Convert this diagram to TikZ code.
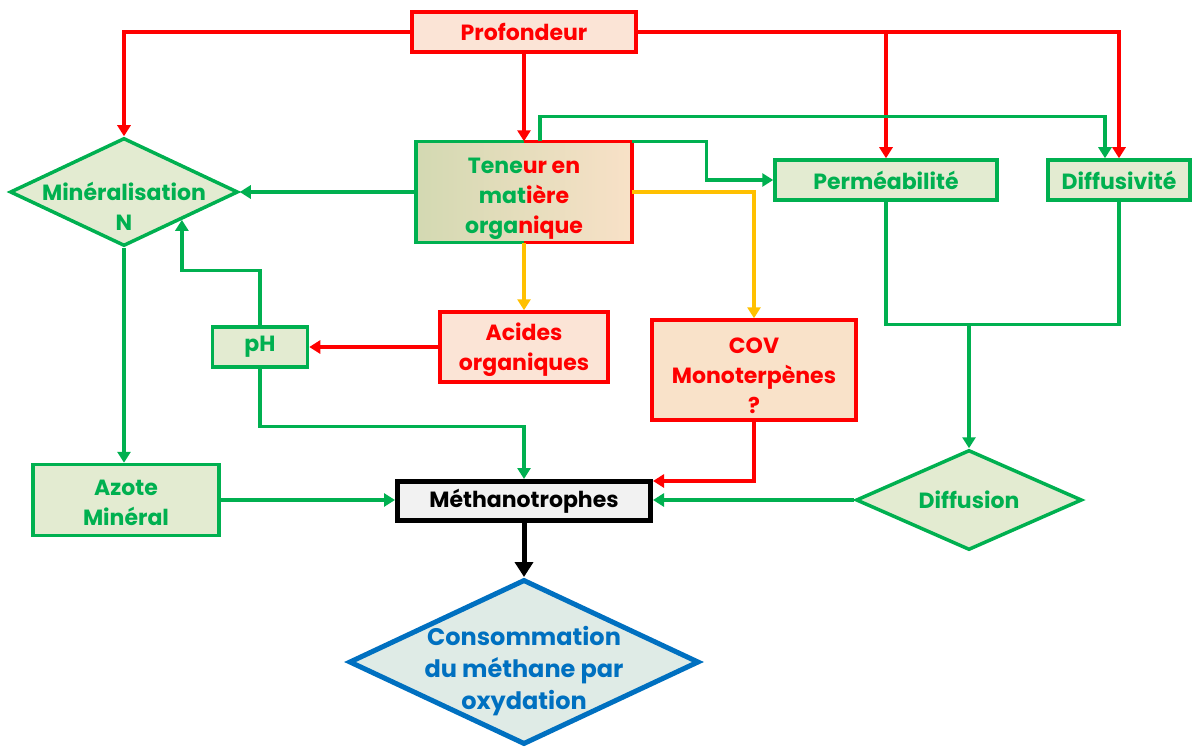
\documentclass[tikz,border=0pt]{standalone}
\usepackage{fontspec}
\setmainfont{Poppins}
\usetikzlibrary{shapes.geometric,arrows.meta,shadows}
\definecolor{gr}{HTML}{00B050}
\definecolor{rd}{HTML}{FF0000}
\definecolor{og}{HTML}{FFC000}
\definecolor{bl}{HTML}{0070C0}
\definecolor{gfill}{HTML}{E3EBD1}
\definecolor{pfill}{HTML}{FBE4D6}
\definecolor{cfill}{HTML}{F9E2C9}
\definecolor{tgl}{HTML}{D3D9B2}
\definecolor{tgr}{HTML}{F8E1C7}
\definecolor{bfill}{HTML}{DFEBE6}
\tikzset{
  txt/.style={font=\bfseries\fontsize{22}{30}\selectfont, align=center},
  gbox/.style={txt, draw=gr, line width=3.5pt, fill=gfill, text=gr, inner sep=0pt},
  rbox/.style={txt, draw=rd, line width=3.5pt, fill=pfill, text=rd, inner sep=0pt},
  gdia/.style={diamond, draw=gr, line width=3.5pt, fill=gfill, inner sep=0pt},
  gl/.style={draw=gr, line width=3.3pt},
  rl/.style={draw=rd, line width=3.3pt},
  ol/.style={draw=og, line width=3.3pt},
  tip/.style={-{Triangle[length=11pt,width=13pt]}},
}
\begin{document}
\begin{tikzpicture}[x=1pt,y=-1pt]
\useasboundingbox (0,0) rectangle (1192,749);
% nodes
\node[rbox, minimum width=224pt, minimum height=40pt] (pro) at (524,32) {Profondeur};
\node[left color=tgl, right color=tgr, minimum width=216pt, minimum height=101pt, inner sep=0pt] (ten) at (524,192) {};
\node[txt] (tent) at ([yshift=-7pt]ten.center)
  {\textcolor{gr}{Tene}\textcolor{rd}{ur en}\\\textcolor{gr}{mat}\textcolor{rd}{ière}\\\textcolor{gr}{orga}\textcolor{rd}{nique}};
\draw[gr, line width=3.5pt] (ten.north) -- (ten.north west) -- (ten.south west) -- (ten.south);
\draw[rd, line width=3.5pt] (ten.north) -- (ten.north east) -- (ten.south east) -- (ten.south);
\node[gdia, minimum width=228pt, minimum height=108pt] (min) at (124,192) {};
\node[txt, text=gr] (mint) at ([yshift=-14pt]min.center) {Minéralisation\\N};
\node[gbox, minimum width=222pt, minimum height=40pt] (perm) at (886,180) {Perméabilité};
\node[gbox, minimum width=142pt, minimum height=40pt] (difv) at (1119,180) {Diffusivité};
\node[rbox, minimum width=168pt, minimum height=70pt] (aci) at (524,347) {};
\node[txt, text=rd] (acit) at ([yshift=-3pt]aci.center) {Acides\\organiques};
\node[rbox, fill=cfill, minimum width=204pt, minimum height=100pt] (cov) at (754,370) {};
\node[txt, text=rd] (covt) at ([yshift=-6pt]cov.center) {COV\\Monoterpènes\\?};
\node[gbox, minimum width=95pt, minimum height=40pt] (ph) at (260,347) {pH};
\node[gbox, minimum width=186pt, minimum height=71pt] (az) at (126,500) {};
\node[txt, text=gr] (azt) at ([yshift=-3pt]az.center) {Azote\\Minéral};
\node[txt, draw=black, line width=5pt, fill=black!5, drop shadow={opacity=0.35}, minimum width=253pt, minimum height=39pt, inner sep=0pt] (meth) at (524,501) {Méthanotrophes};
\node[gdia, minimum width=226pt, minimum height=100pt] (dif) at (969,500) {};
\node[txt, text=gr] (dift) at (dif.center) {Diffusion};
\node[diamond, draw=bl, line width=5pt, fill=bfill, inner sep=0pt, minimum width=350pt, minimum height=165pt] (cons) at (524,662) {};
\node[txt, text=bl, font=\bfseries\fontsize{24}{32}\selectfont] (const) at ([yshift=-9pt]cons.center) {Consommation\\du méthane par\\oxydation};
% red connectors
\draw[rl, tip] (pro.west) -| (min.north);
\draw[rl, tip] (pro.south) -- (ten.north);
\draw[rl, tip] (pro.east) -| (perm.north);
\draw[rl, tip] (pro.east) -| (difv.north);
\draw[rl, tip] (aci.west) -- (ph.east);
\draw[rl, tip] (cov.south) |- ([yshift=-2pt]meth.north east);
% orange connectors
\draw[ol, tip] (ten.south) -- (aci.north);
\draw[ol, tip] (ten.east) -| (cov.north);
% green connectors
\draw[gl, tip] ([xshift=16pt]ten.north) -- ++(0,-25) -| ([xshift=-14pt]difv.north);
\draw[gl, tip] (ten.north east) -- ++(74,0) |- (perm.west);
\draw[gl, tip] (ten.west) -- (min.east);
\draw[gl, tip] (ph.north) -- ++(0,-55) -| (min.south east);
\draw[gl, tip] (ph.south) -- ++(0,58) -| (meth.north);
\draw[gl, tip] (min.south) -- (min.south |- az.north);
\draw[gl, tip] (az.east) -- (az.east -| meth.west);
\draw[gl, tip] (dif.west) -- (dif.west -| meth.east);
\path (perm.south) -- ++(0,123) coordinate (jl);
\draw[gl] (perm.south) -- (jl) -| (difv.south);
\draw[gl, tip] (jl -| dif.north) -- (dif.north);
% black
\draw[line width=5pt, -{Triangle[length=15pt,width=18pt]}] (meth.south) -- (cons.north);
\end{tikzpicture}
\end{document}
